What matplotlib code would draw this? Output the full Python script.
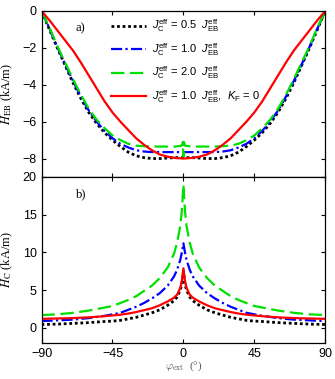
import numpy as np
import matplotlib
matplotlib.use("Agg")
import matplotlib.pyplot as plt

plt.rcParams['font.family'] = ['Liberation Sans', 'DejaVu Sans']
plt.rcParams['mathtext.fontset'] = 'custom'
plt.rcParams['mathtext.rm'] = 'Liberation Sans'
plt.rcParams['mathtext.it'] = 'Liberation Sans:italic'

# ---- panel a) exchange bias field ----
phi_eb = [-90, -85, -80, -75, -70, -65, -60, -55, -50, -45, -40, -35, -30, -25, -20, -15, -10, -5, 0,
          5, 10, 15, 20, 25, 30, 35, 40, 45, 50, 55, 60, 65, 70, 75, 80, 85, 90]
black_eb = [0, -1.0, -2.0, -2.95, -3.9, -4.75, -5.5, -6.1, -6.6, -7.0, -7.35, -7.65, -7.85, -7.95, -8.0, -8.0, -7.97, -7.95, -7.95,
            -7.95, -7.97, -8.0, -8.0, -7.95, -7.85, -7.65, -7.35, -7.0, -6.6, -6.1, -5.5, -4.75, -3.9, -2.95, -2.0, -1.0, 0]
blue_eb = [0, -0.95, -1.95, -2.9, -3.8, -4.65, -5.4, -6.0, -6.5, -6.9, -7.2, -7.4, -7.55, -7.62, -7.65, -7.65, -7.65, -7.65, -7.65,
           -7.65, -7.65, -7.65, -7.65, -7.62, -7.55, -7.4, -7.2, -6.9, -6.5, -6.0, -5.4, -4.65, -3.8, -2.9, -1.95, -0.95, 0]
red_eb = [0, -0.5, -1.05, -1.6, -2.15, -2.8, -3.5, -4.2, -4.9, -5.5, -6.0, -6.45, -6.9, -7.25, -7.55, -7.78, -7.9, -7.97, -8.0,
          -7.97, -7.9, -7.78, -7.55, -7.25, -6.9, -6.45, -6.0, -5.5, -4.9, -4.2, -3.5, -2.8, -2.15, -1.6, -1.05, -0.5, 0]
phi_eb_green = [-90, -85, -80, -75, -70, -65, -60, -55, -50, -45, -40, -35, -30, -25, -20, -15, -10, -5, -1, -0.3, 0,
                0.3, 1, 5, 10, 15, 20, 25, 30, 35, 40, 45, 50, 55, 60, 65, 70, 75, 80, 85, 90]
green_eb = [0, -0.9, -1.9, -2.8, -3.7, -4.55, -5.3, -5.9, -6.35, -6.75, -7.0, -7.2, -7.3, -7.33, -7.35, -7.35, -7.35, -7.35, -7.3, -7.1, -7.9,
            -7.1, -7.3, -7.35, -7.35, -7.35, -7.35, -7.33, -7.3, -7.2, -7.0, -6.75, -6.35, -5.9, -5.3, -4.55, -3.7, -2.8, -1.9, -0.9, 0]

# ---- panel b) coercive field ----
phi_c = [-90, -80, -70, -60, -50, -45, -40, -35, -30, -25, -20, -15, -10, -6, -4, -2, -1, 0,
         1, 2, 4, 6, 10, 15, 20, 25, 30, 35, 40, 45, 50, 60, 70, 80, 90]
black_c = [0.45, 0.5, 0.6, 0.7, 0.85, 0.9, 1.0, 1.2, 1.4, 1.7, 2.0, 2.4, 3.0, 3.6, 4.1, 5.0, 5.8, 7.5,
           5.8, 5.0, 4.1, 3.6, 3.0, 2.4, 2.0, 1.7, 1.4, 1.2, 1.0, 0.9, 0.85, 0.7, 0.6, 0.5, 0.45]
blue_c = [0.9, 1.0, 1.1, 1.3, 1.6, 1.8, 2.0, 2.4, 2.8, 3.3, 3.9, 4.6, 5.6, 6.8, 7.7, 9.0, 10.0, 11.2,
          10.0, 9.0, 7.7, 6.8, 5.6, 4.6, 3.9, 3.3, 2.8, 2.4, 2.0, 1.8, 1.6, 1.3, 1.1, 1.0, 0.9]
green_c = [1.7, 1.8, 2.0, 2.3, 2.7, 2.9, 3.3, 3.7, 4.2, 4.9, 5.6, 6.6, 8.0, 9.8, 11.3, 13.5, 15.5, 19.0,
           15.5, 13.5, 11.3, 9.8, 8.0, 6.6, 5.6, 4.9, 4.2, 3.7, 3.3, 2.9, 2.7, 2.3, 2.0, 1.8, 1.7]
red_c = [1.2, 1.25, 1.3, 1.4, 1.55, 1.65, 1.75, 1.9, 2.1, 2.35, 2.6, 3.0, 3.5, 4.0, 4.4, 5.3, 6.2, 7.9,
         6.2, 5.3, 4.4, 4.0, 3.5, 3.0, 2.6, 2.35, 2.1, 1.9, 1.75, 1.65, 1.55, 1.4, 1.3, 1.25, 1.2]

labels = [r"$J_{\rm C}^{\rm eff}$ = 0.5  $J_{\rm EB}^{\rm eff}$",
          r"$J_{\rm C}^{\rm eff}$ = 1.0  $J_{\rm EB}^{\rm eff}$",
          r"$J_{\rm C}^{\rm eff}$ = 2.0  $J_{\rm EB}^{\rm eff}$",
          r"$J_{\rm C}^{\rm eff}$ = 1.0  $J_{\rm EB}^{\rm eff}$,  $K_{\rm F}$ = 0"]
xticks = [-90, -45, 0, 45, 90]

fig = plt.figure(figsize=(3.35, 3.79), dpi=100)
ax1 = fig.add_axes([0.124, 0.533, 0.847, 0.438])
ax2 = fig.add_axes([0.124, 0.095, 0.847, 0.438])

lw = 1.6
ax1.plot(phi_eb, black_eb, color='black', ls=(0, (1, 1)), lw=lw + 0.4, label=labels[0])
ax1.plot(phi_eb, blue_eb, color='blue', ls=(0, (5, 1.5, 1, 1.5)), lw=lw, label=labels[1])
ax1.plot(phi_eb_green, green_eb, color='#00e000', ls=(0, (6, 2.5)), lw=lw, label=labels[2])
ax1.plot(phi_eb, red_eb, color='red', ls='-', lw=lw, label=labels[3])

ax2.plot(phi_c, black_c, color='black', ls=(0, (1, 1)), lw=lw + 0.4)
ax2.plot(phi_c, blue_c, color='blue', ls=(0, (5, 1.5, 1, 1.5)), lw=lw)
ax2.plot(phi_c, green_c, color='#00e000', ls=(0, (6, 2.5)), lw=lw)
ax2.plot(phi_c, red_c, color='red', ls='-', lw=lw)

for ax in (ax1, ax2):
    ax.set_xlim(-90, 90)
    ax.set_xticks(xticks)
    ax.tick_params(direction='in', top=True, right=True, length=3, labelsize=9, width=0.8)
    for s in ax.spines.values():
        s.set_linewidth(0.9)

ax1.set_ylim(-9, 0)
ax1.set_yticks([0, -2, -4, -6, -8])
ax1.set_xticklabels([])
ax2.set_ylim(-2, 20)
ax2.set_yticks([0, 5, 10, 15, 20])
ax2.set_xticklabels(["\u221290", "\u221245", "0", "45", "90"])
ax1.set_yticklabels(["0", "\u22122", "\u22124", "\u22126", "\u22128"])

ax1.set_ylabel(r"$H_{\rm EB}$ (kA/m)", family='Liberation Serif', math_fontfamily='stix', fontsize=9)
ax2.set_ylabel(r"$H_{\rm C}$ (kA/m)", family='Liberation Serif', math_fontfamily='stix', fontsize=9)
ax1.yaxis.set_label_coords(-0.095, 0.5)
ax2.yaxis.set_label_coords(-0.095, 0.5)
ax2.set_xlabel(r"$\varphi_{\rm ext}$  (°)", family='Liberation Serif', math_fontfamily='cm',
               fontsize=8, color='#555555', labelpad=0)

ax1.text(0.12, 0.88, "a)", transform=ax1.transAxes, family='Liberation Serif', fontsize=9)
ax2.text(0.12, 0.88, "b)", transform=ax2.transAxes, family='Liberation Serif', fontsize=9)

ax1.legend(loc='upper left', bbox_to_anchor=(0.22, 1.0), frameon=False, fontsize=8,
           handlelength=3.2, handletextpad=0.5, labelspacing=0.6, borderaxespad=0.2)

fig.savefig("out.png", dpi=100)
